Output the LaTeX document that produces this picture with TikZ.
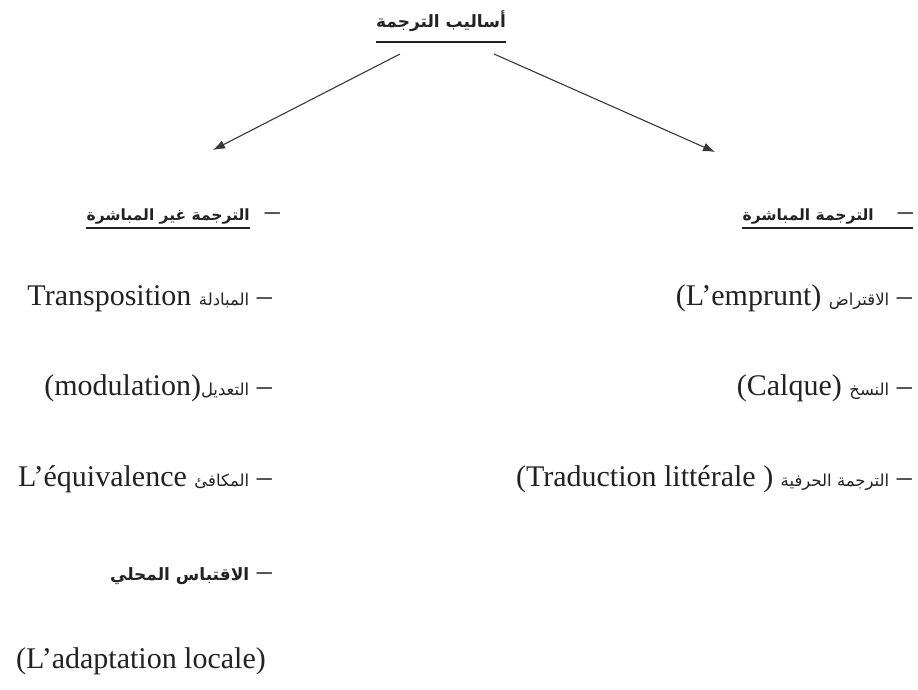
\documentclass[tikz,border=0pt]{standalone}
\usepackage{fontspec}
\setmainfont{Liberation Serif}
\newfontfamily\arabicfont[Script=Arabic]{DejaVu Sans}
\TeXXeTstate=1
\usetikzlibrary{arrows.meta}
\definecolor{ink}{HTML}{222222}
\newcommand{\ar}[1]{{\fontsize{16.5}{19}\selectfont\arabicfont\beginR #1\endR}}
\newcommand{\arb}[1]{{\arabicfont\bfseries\beginR #1\endR}}

\begin{document}
\begin{tikzpicture}[x=1pt, y=-1pt, text=ink]
			\tikzstyle{item}=[anchor=base east, inner sep=0pt, font=\fontsize{30}{34}\selectfont]
			\tikzstyle{head}=[anchor=base east, inner sep=0pt, font=\fontsize{15.5}{19}\selectfont]
			\tikzstyle{arrow}=[-{Latex[length=12pt,width=9pt]}, draw=ink!90, line width=1.1pt]
			\useasboundingbox (0,0) rectangle (918,690);
			
			% Draw title and headings
			\node[head, anchor=base, font=\fontsize{17}{20}\selectfont] (title) at (441,28) {\arb{أساليب الترجمة}};
			\node[item] (ldash) at (280,220) {--};
			\node[head] (lhead) at (250,220) {\arb{الترجمة غير المباشرة}};
			\node[item] (rdash) at (913,220) {--};
			\node[head] (rhead) at (874,220) {\arb{الترجمة المباشرة}};
			
			% Draw underlines
			\draw[ink, line width=1.6pt] (title.west|-0,42) -- (title.east|-0,42);
			\draw[ink, line width=2.6pt] (lhead.west|-0,228) -- (lhead.east|-0,228);
			\draw[ink, line width=2.6pt] (rhead.west|-0,228) -- (rdash.east|-0,228);
			
			% Draw arrows
			\coordinate (tl) at (400,54);
			\coordinate (tr) at (494,54);
			\coordinate (al) at (213,150);
			\coordinate (ar) at (715,152);
			\draw[arrow] (tl) -- (al);
			\draw[arrow] (tr) -- (ar);
			
			% Draw left items
			\node[item] (trans) at (272,305) {Transposition \ar{المبادلة} --};
			\node[item] (modul) at (272,395) {(modulation)\ar{التعديل} --};
			\node[item] (equiv) at (272,486) {L’équivalence \ar{المكافئ} --};
			\node[item] (adapt) at (272,580) {{\fontsize{17}{20}\selectfont\arb{الاقتباس المحلي}} --};
			\node[item, anchor=base] (locale) at (141,668) {(L’adaptation locale)};
			
			% Draw right items
			\node[item] (empr) at (912,305) {(L’emprunt) \ar{الاقتراض} --};
			\node[item] (calq) at (912,395) {(Calque) \ar{النسخ} --};
			\node[item] (litt) at (912,486) {\beginL(Traduction littérale )\endL{} \ar{الترجمة الحرفية} --};
			
		\end{tikzpicture}
\end{document}
